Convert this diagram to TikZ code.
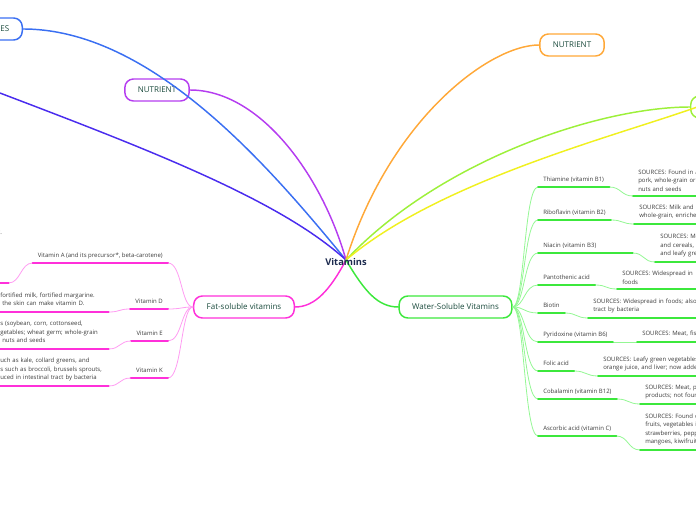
\documentclass[tikz,border=0pt]{standalone}
\usepackage{fontspec}
\setmainfont{Open Sans}
\definecolor{vitnavy}{HTML}{1C2A4E}
\definecolor{vitteal}{HTML}{1A4A3C}
\definecolor{vitgray}{HTML}{3C3C3C}
\definecolor{srcblue}{HTML}{3A6FF2}
\definecolor{offindigo}{HTML}{4A2CEE}
\definecolor{nutpurple}{HTML}{B53DF0}
\definecolor{nutorange}{HTML}{FFA838}
\definecolor{sidelime}{HTML}{9DF03A}
\definecolor{sideyellow}{HTML}{F0F020}
\definecolor{fatpink}{HTML}{FF30DA}
\definecolor{fatpinklight}{HTML}{FF9CF2}
\definecolor{watgreen}{HTML}{3CE83C}
\definecolor{watgreenlight}{HTML}{94F794}
\newcommand\notefont{\fontsize{4.5pt}{6.4pt}\selectfont}
\newcommand\hid[1]{\makebox[0pt][r]{#1}}
\tikzset{
  vit box/.style={draw, line width=1.1pt, rounded corners=6.5pt, minimum height=16.5pt,
    inner xsep=9.75pt, inner ysep=0pt, text=vitteal, font=\fontsize{6pt}{7pt}\selectfont},
  vit topic/.style={inner xsep=3.75pt, inner ysep=2.8pt, text depth=1pt, text=vitgray, font=\notefont},
  vit note/.style={inner xsep=3.75pt, inner ysep=3.3pt, text=vitgray, font=\notefont, align=left, anchor=south west},
  spoke/.style={line width=1.1pt},
  twig/.style={line width=0.6pt},
  stem/.style={line width=1.5pt},
}

\begin{document}
\begin{tikzpicture}[x=0.75pt, y=-0.75pt, line cap=round, line join=round]
  \useasboundingbox (0,0) rectangle (696,520);
  \clip (0,0) rectangle (696,520);

  % main branches
  \node[vit box, draw=srcblue, anchor=east] (srcL) at (23,29) {SOURCES};
  \node[vit box, draw=nutpurple] (nutL) at (157,90) {NUTRIENT};
  \node[vit box, draw=nutorange] (nutR) at (572,45) {NUTRIENT};
  \node[vit box, draw=sidelime, anchor=west] (srcR) at (690,107) {SOURCES};
  \node[vit box, draw=fatpink] (fat) at (244,307) {Fat-soluble vitamins};
  \node[vit box, draw=watgreen] (water) at (455.5,307) {Water-Soluble Vitamins};
  \coordinate (hub) at (346,260);
  \coordinate (offL) at (-8,90);
  \coordinate (offR) at (700,106);

  \draw[spoke, srcblue] (srcL.east) .. controls +(130,0) and (272,170) .. (hub);
  \draw[spoke, offindigo] (offL) .. controls (150,150) and (280,200) .. (hub);
  \draw[spoke, nutpurple] (nutL.east) .. controls +(70,0) and (322,175) .. (hub);
  \draw[spoke, nutorange] (nutR.west) .. controls +(-50,0) and (390,120) .. (hub);
  \draw[spoke, sidelime] (srcR.west) .. controls +(-90,0) and (440,160) .. (hub);
  \draw[spoke, sideyellow] (offR) .. controls (620,135) and (440,180) .. (hub);
  \draw[spoke, fatpink] (hub) .. controls (330,290) and (315,307) .. (fat.east);
  \draw[spoke, watgreen] (hub) .. controls (365,292) and (378,307) .. (water.west);

  % fat-soluble side
  \node[vit topic, anchor=south east] (fA) at (168,263) {Vitamin A (and its precursor*, beta-carotene)};
  \node[vit topic, anchor=south east] (fD) at (168,309) {Vitamin D};
  \node[vit topic, anchor=south east] (fE) at (168,341) {Vitamin E};
  \node[vit topic, anchor=south east] (fK) at (168,378) {Vitamin K};

  \node[vit note, text width=2.25pt] (sA) at (-5,283)
    {\hid{SOURCES: Vitamin A: Fortified milk, cheese, cream, butter, fortified margarine, eggs, liver}.\\
     \hid{Beta-carotene: Spinach and other dark leafy greens;}\\
     \hid{broccoli; deep orange fruits (apricots,}\\
     \hid{cantaloupe) and vegetables (squash,}\\
     \hid{carrots, sweet potatoes,}\\
     \hid{pumpkin)}};
  \node[vit note, text width=77.25pt] (sD) at (-5,312)
    {\hid{SOURCES: Egg yolks, liver, fatty fish, }fortified milk, fortified margarine.\\
     \hid{When exposed to sunlight,} the skin can make vitamin D.};
  \node[vit note, text width=77.25pt] (sE) at (-5,349)
    {\hid{SOURCES: Polyunsaturated plant oil}s (soybean, corn, cottonseed,\\
     \hid{safflower); leafy green ve}getables; wheat germ; whole-grain\\
     \hid{products; liver; egg yolks;} nuts and seeds};
  \node[vit note, text width=77.25pt] (sK) at (-5,386)
    {\hid{SOURCES: Leafy green vegetables s}uch as kale, collard greens, and\\
     \hid{spinach; cabbage-type vegetable}s such as broccoli, brussels sprouts,\\
     \hid{and cabbage; milk; also prod}uced in intestinal tract by bacteria};

  \foreach \t in {fA,fD,fE,fK}
    \draw[twig, fatpinklight] (fat.west) .. controls +(-12,0) and +(14,0) .. (\t.south east);
  \foreach \t/\n in {fA/sA,fD/sD,fE/sE,fK/sK}
    \draw[twig, fatpinklight] (\t.south west) .. controls +(-12,0) and +(12,0) .. (\n.south east);
  \foreach \t in {fA,fD,fE,fK,sA,sD,sE,sK}
    \draw[stem, fatpink] (\t.south west) -- (\t.south east);

  % water-soluble side
  \node[vit topic, anchor=south west] (wB1) at (538,187) {Thiamine (vitamin B1)};
  \node[vit topic, anchor=south west] (wB2) at (538,220) {Riboflavin (vitamin B2)};
  \node[vit topic, anchor=south west, text width=63pt, align=left] (wB3) at (538,253) {Niacin (vitamin B3)};
  \node[vit topic, anchor=south west] (wB5) at (538,285) {Pantothenic acid};
  \node[vit topic, anchor=south west] (wB7) at (538,313) {Biotin};
  \node[vit topic, anchor=south west] (wB6) at (538,342) {Pyridoxine (vitamin B6)};
  \node[vit topic, anchor=south west] (wB9) at (538,371) {Folic acid};
  \node[vit topic, anchor=south west] (wB12) at (538,399) {Cobalamin (vitamin B12)};
  \node[vit topic, anchor=south west] (wC) at (538,436) {Ascorbic acid (vitamin C)};

  \node[vit note, text width=200pt] (nB1) at (633,196)
    {SOURCES: Found in all nutritious food in moderate amounts:\\
     pork, whole-grain or enriched breads and cereals, legumes,\\
     nuts and seeds};
  \node[vit note, text width=200pt] (nB2) at (634,224)
    {SOURCES: Milk and milk products; leafy green vegetables;\\
     whole-grain, enriched breads and cereals};
  \node[vit note, text width=200pt] (nB3) at (655,262)
    {SOURCES: Meat, poultry, fish, whole-grain or enriched breads\\
     and cereals, vegetables (especially mushrooms, asparagus,\\
     and leafy green vegetables)};
  \node[vit note, text width=200pt] (nB5) at (617,289)
    {SOURCES: Widespread in\\ foods};
  \node[vit note, text width=200pt] (nB7) at (588,318)
    {SOURCES: Widespread in foods; also produced in intestinal\\
     tract by bacteria};
  \node[vit note, text width=200pt] (nB6) at (637,342)
    {SOURCES: Meat, fish, poultry, vegetables, fruits};
  \node[vit note, text width=200pt] (nB9) at (598,376)
    {SOURCES: Leafy green vegetables and legumes, seeds,\\
     orange juice, and liver; now added to most refined grains};
  \node[vit note, text width=200pt] (nB12) at (640,404)
    {SOURCES: Meat, poultry, fish, seafood, eggs, milk and milk\\
     products; not found in plant foods};
  \node[vit note, text width=200pt] (nC) at (640,450)
    {SOURCES: Found only in fruits and vegetables, especially citrus\\
     fruits, vegetables in the cabbage family, cantaloupe,\\
     strawberries, peppers, lettuce, tomatoes, potatoes, papayas,\\
     mangoes, kiwifruit};

  \foreach \t in {wB1,wB2,wB3,wB5,wB7,wB6,wB9,wB12,wC}
    \draw[twig, watgreenlight] (water.east) .. controls +(12,0) and +(-14,0) .. (\t.south west);
  \foreach \t/\n in {wB1/nB1,wB2/nB2,wB3/nB3,wB5/nB5,wB7/nB7,wB6/nB6,wB9/nB9,wB12/nB12,wC/nC}
    \draw[twig, watgreenlight] (\t.south east) .. controls +(12,0) and +(-12,0) .. (\n.south west);
  \foreach \t in {wB1,wB2,wB3,wB5,wB7,wB6,wB9,wB12,wC,nB1,nB2,nB3,nB5,nB7,nB6,nB9,nB12,nC}
    \draw[stem, watgreen] (\t.south west) -- (\t.south east);

  \node[font=\bfseries\fontsize{7pt}{8pt}\selectfont, text=vitnavy] (vit) at (346,262) {Vitamins};
\end{tikzpicture}
\end{document}
